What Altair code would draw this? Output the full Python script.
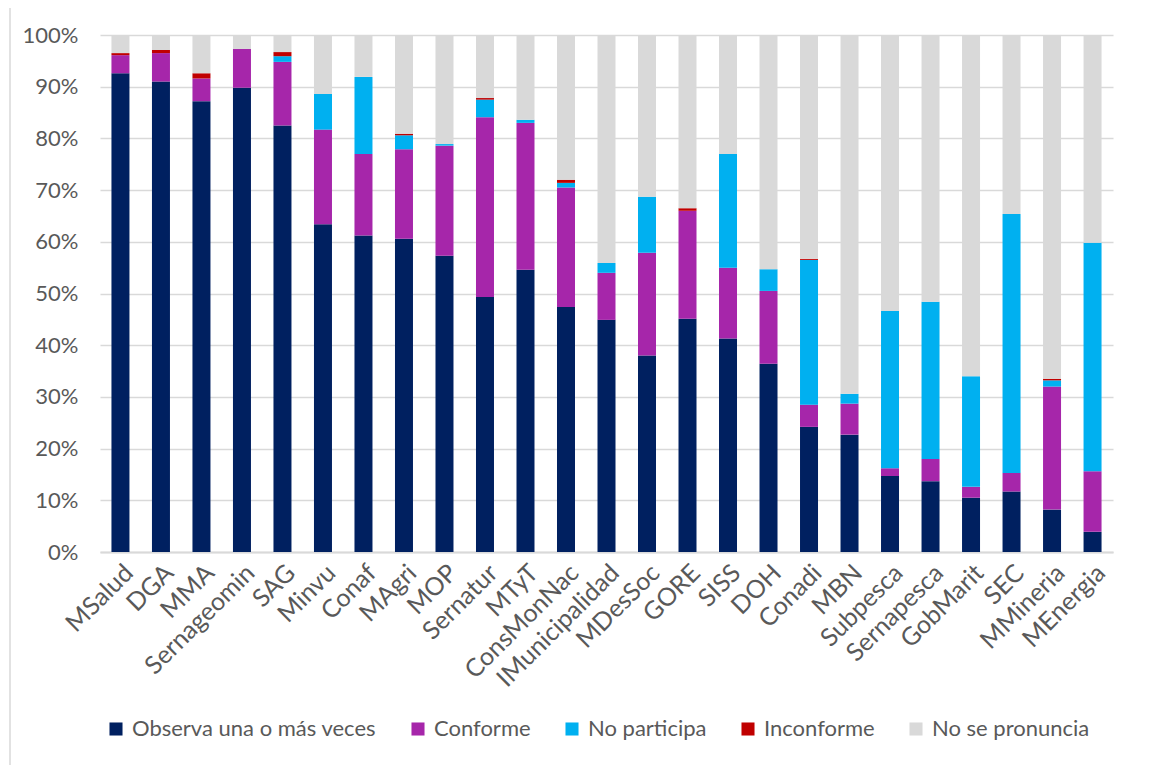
import altair as alt
import pandas as pd

categories = ["MSalud", "DGA", "MMA", "Sernageomin", "SAG", "Minvu", "Conaf", "MAgri", "MOP",
              "Sernatur", "MTyT", "ConsMonNac", "IMunicipalidad", "MDesSoc", "GORE", "SISS", "DOH",
              "Conadi", "MBN", "Subpesca", "Sernapesca", "GobMarit", "SEC", "MMineria", "MEnergia"]

observa = [92.6, 91.0, 87.2, 89.8, 82.5, 63.4, 61.2, 60.6, 57.3, 49.3, 54.6, 47.4, 44.9, 38.0,
           45.1, 41.3, 36.4, 24.2, 22.7, 14.7, 13.7, 10.5, 11.7, 8.2, 3.9]
conforme = [3.5, 5.5, 4.4, 7.5, 12.3, 18.3, 15.8, 17.3, 21.3, 34.8, 28.4, 23.1, 9.1, 19.9,
            20.9, 13.7, 14.1, 4.3, 6.0, 1.5, 4.3, 2.1, 3.6, 23.8, 11.7]
no_participa = [0.0, 0.0, 0.0, 0.0, 1.1, 6.9, 14.9, 2.7, 0.3, 3.4, 0.6, 0.9, 1.9, 10.8,
                0.0, 22.0, 4.2, 28.0, 1.9, 30.4, 30.4, 21.4, 50.1, 1.2, 44.2]
inconforme = [0.4, 0.6, 1.0, 0.0, 0.8, 0.0, 0.0, 0.3, 0.0, 0.3, 0.0, 0.6, 0.0, 0.0,
              0.5, 0.0, 0.0, 0.2, 0.0, 0.0, 0.0, 0.0, 0.0, 0.3, 0.0]
no_pronuncia = [3.5, 2.9, 7.4, 2.7, 3.3, 11.4, 8.1, 19.1, 21.1, 12.2, 16.4, 28.0, 44.1, 31.3,
                33.5, 23.0, 45.3, 43.3, 69.4, 53.4, 51.6, 66.0, 34.6, 66.5, 40.2]

series = ["Observa una o más veces", "Conforme", "No participa", "Inconforme", "No se pronuncia"]
colors = ["#002060", "#A626AA", "#00B0F0", "#C00000", "#D9D9D9"]

rows = []
for i, cat in enumerate(categories):
    vals = [observa[i], conforme[i], no_participa[i], inconforme[i], no_pronuncia[i]]
    for k, s in enumerate(series):
        rows.append({"cat": cat, "serie": s, "val": vals[k], "ord": k})
df = pd.DataFrame(rows)

font = "Lato"
bars = alt.Chart(df).mark_bar(size=18).encode(
    x=alt.X("cat:N", sort=categories, title=None,
            scale=alt.Scale(paddingInner=0.55, paddingOuter=0.28),
            axis=alt.Axis(labelAngle=-45, labelFontSize=25, labelColor="#595959", labelFont=font,
                          ticks=False, domain=True, domainColor="#D9D9D9", domainWidth=2,
                          labelPadding=8)),
    y=alt.Y("val:Q", stack="normalize", title=None,
            scale=alt.Scale(domain=[0, 1]),
            axis=alt.Axis(format=".0%", values=[i / 10 for i in range(11)], labelFontSize=22,
                          labelColor="#595959", labelFont=font, ticks=False, domain=False,
                          gridColor="#D9D9D9", gridWidth=1.5, labelPadding=22)),
    color=alt.Color("serie:N", sort=series,
                    scale=alt.Scale(domain=series, range=colors),
                    legend=alt.Legend(title=None, orient="none", direction="horizontal",
                                      legendX=5, legendY=683, symbolType="square", symbolSize=170,
                                      symbolStrokeWidth=0, labelFontSize=22, labelColor="#595959",
                                      labelFont=font, columnPadding=30, labelOffset=5,
                                      labelLimit=400)),
    order=alt.Order("ord:Q", sort="ascending"),
)

frame = alt.Chart(pd.DataFrame({"a": [0]})).mark_rule(color="#D9D9D9", strokeWidth=1.5).encode(
    x=alt.value(-90), y=alt.value(-40), y2=alt.value(760)
)

chart = alt.layer(frame, bars).properties(
    width=1013, height=517,
    autosize=alt.AutoSizeParams(type="none"),
    padding={"left": 92, "top": 27, "right": 40, "bottom": 215},
).configure_view(stroke=None)

chart.save("out.html", embed_options={"renderer": "svg", "actions": False})
